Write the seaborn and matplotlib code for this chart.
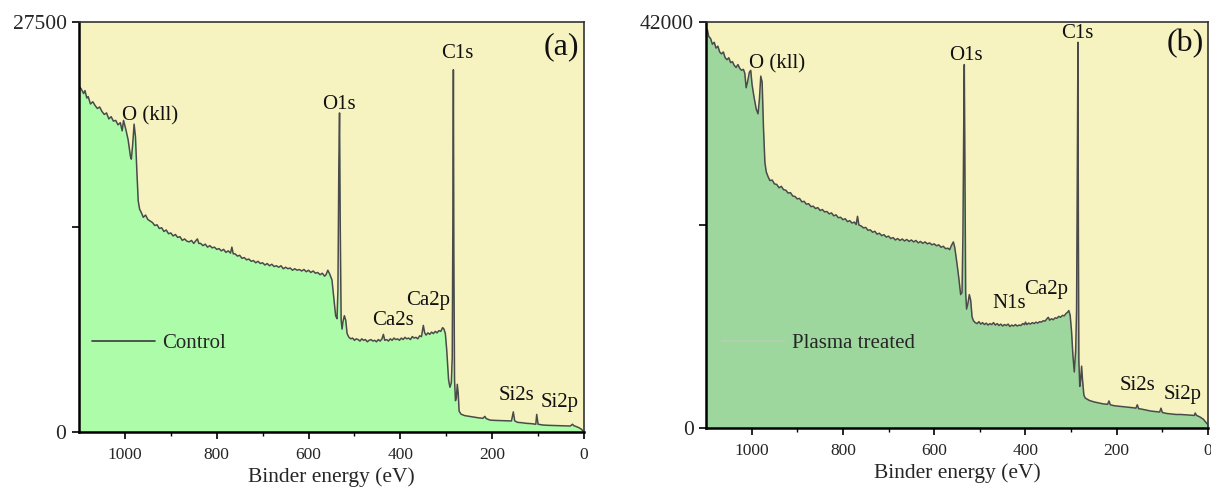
import numpy as np
import pandas as pd
import matplotlib
matplotlib.use("Agg")
import matplotlib.pyplot as plt
import seaborn as sns

# ---------------- data ----------------
control_energy = [1100, 1095, 1090, 1087, 1083, 1080, 1075, 1070, 1065, 1060, 1055, 1050, 1045, 1040,
                  1035, 1030, 1025, 1020, 1015, 1010, 1006, 1003, 998, 993, 988, 986, 983, 980, 977,
                  974, 971, 968, 964,
                  960, 955, 950, 945, 940, 935, 930, 925, 920, 915, 910, 905, 900, 895, 890, 885, 880,
                  875, 870, 865, 860, 855, 850, 845, 842, 839, 835, 830, 825, 820, 815, 810, 805, 800,
                  795, 790, 785, 780, 775, 770, 767, 764, 760, 755, 750, 745, 740, 735, 730, 725, 720,
                  715, 710, 705, 700, 695, 690, 685, 680, 675, 670, 665, 660, 655, 650, 645, 640, 635,
                  630, 625, 620, 615, 610, 605, 600, 595, 590, 585, 580, 575, 570, 565, 562, 558, 554,
                  549, 545, 541, 538, 536, 534, 532.5, 531, 529, 527, 525, 522, 519, 516,
                  512, 508, 504, 500, 496, 492, 488, 484, 480, 476, 472, 468, 464, 460, 456, 452, 448,
                  444, 440, 437, 434, 430, 426, 422, 418, 414, 410, 406, 402, 398, 394, 390, 386, 382,
                  378, 374, 370, 366, 362, 358, 354, 350, 347, 344, 340, 336, 332, 328, 324, 320, 316,
                  312, 308, 305, 302, 299, 295,
                  292, 289, 287, 285.5, 284.5, 283.5, 282, 280, 278, 276, 274, 272, 268, 260, 250, 240,
                  230, 220, 216, 213, 205, 195, 185, 175, 165, 158, 154, 151, 145, 135, 125, 115, 105,
                  103, 100, 90, 80, 70, 60, 50, 40, 30, 25, 22, 18, 12, 6, 0]
control_counts = [23200, 23000, 22700, 22900, 22400, 22500, 22000, 22150, 21900, 21700, 21800, 21500,
                  21300, 21400, 21000, 21150, 20850, 20900, 20600, 20750, 20200, 20900, 20300, 19600,
                  18500, 18300, 19300, 20650, 19800, 17500, 15500, 14950, 14700,
                  14400, 14550, 14250, 14150, 14050, 13850, 13900, 13650, 13700, 13450, 13550, 13300,
                  13350, 13150, 13250, 13050, 13100, 12850, 12950, 12800, 12750, 12850, 12650, 12850,
                  12950, 12650, 12650, 12500, 12600, 12400, 12500, 12350, 12400, 12250, 12300, 12150,
                  12250, 12050, 12150, 12000, 12400, 11950, 11950, 11800, 11850, 11650, 11700, 11550,
                  11600, 11450, 11500, 11350, 11450, 11300, 11350, 11200, 11300, 11150, 11250, 11100,
                  11150, 11050, 11150, 10950, 11050, 10950, 11000, 10850, 10950, 10850, 10900, 10800,
                  10900, 10750, 10850, 10700, 10800, 10650, 10700, 10550, 10650, 10450, 10550, 10850,
                  10600, 10200, 9000, 7800, 7600, 9500, 18000, 21400, 14000, 7500, 6900, 7400, 7800,
                  7500, 6600,
                  6350, 6250, 6300, 6150, 6250, 6200, 6100, 6250, 6150, 6200, 6050, 6150, 6200, 6100,
                  6150, 6050, 6200, 6100, 6250, 6550, 6150, 6200, 6100, 6250, 6150, 6300, 6200, 6250,
                  6150, 6300, 6200, 6350, 6250, 6300, 6200, 6400, 6300, 6350, 6250, 6450, 6400, 7150,
                  6650, 6500, 6650, 6550, 6700, 6600, 6750, 6650, 6800, 6750, 7000, 6900, 6600, 5500,
                  3500,
                  3000, 3300, 5000, 15000, 24300, 12000, 3500, 2100, 2300,
                  3200, 2600, 1400, 1200, 1100, 1050, 1000, 950, 920, 1050, 900, 800, 780, 770, 760,
                  750, 740, 1350, 750, 650, 620, 580, 560, 520, 1180, 520, 470, 450, 440, 430, 420,
                  410, 400, 520, 420, 380, 300, 200, 0]

plasma_energy = [1100, 1097, 1094, 1090, 1086, 1082, 1078, 1074, 1070, 1066, 1062, 1058, 1054, 1050,
                 1046, 1042, 1038, 1034, 1030, 1026, 1022, 1018, 1015, 1012, 1009, 1005, 1002, 999,
                 995, 990, 986, 983, 980, 977, 974, 971, 968,
                 964, 960, 955, 950, 945, 940, 935, 930, 925, 920, 915, 910, 905, 900, 895, 890, 885,
                 880, 875, 870, 865, 860, 855, 850, 845, 840, 835, 830, 825, 820, 815, 810, 805, 800,
                 795, 790, 785, 780, 775, 771, 768, 765, 760, 755, 750, 745, 740, 735, 730, 725, 720,
                 715, 710, 705, 700, 695, 690, 685, 680, 675, 670, 665, 660, 655, 650, 645, 640, 635,
                 630, 625, 620, 615, 610, 605, 600, 595, 590, 585, 580, 575, 570, 566, 562, 558,
                 555, 550, 546, 542, 539, 537, 535, 534, 533, 531, 529, 526, 523, 520, 517, 514,
                 510, 506, 502, 498, 494, 490, 486, 482, 478, 474, 470, 466, 462, 458, 454, 450, 446,
                 442, 438, 434, 430, 426, 422, 418, 414, 410, 406, 402, 400, 397, 393, 389, 385, 381,
                 377, 373, 369, 365, 361, 357, 353, 350, 347, 343, 339, 335, 331, 327, 323, 319, 315,
                 311, 308, 305, 302, 299,
                 296, 293, 290, 288, 286.5, 285, 284, 283, 281, 279, 277, 275, 272, 269, 260, 250, 240,
                 230, 220, 217, 214, 205, 195, 185, 175, 165, 158, 155, 152, 145, 135, 125, 115, 106,
                 103, 100, 90, 80, 70, 60, 50, 40, 30, 28, 25, 18, 10, 5, 0]
plasma_counts = [40970, 41200, 40500, 40300, 39700, 39900, 39300, 39500, 38900, 38700, 38900, 38300,
                 38100, 38300, 37800, 37900, 37500, 37300, 37600, 37200, 37000, 37100, 36700, 35200,
                 35800, 36800, 37000, 35500, 34300, 33000, 32500, 34000, 36400, 35800, 31000, 27500,
                 26500,
                 26000, 25600, 25650, 25250, 25200, 24850, 25000, 24650, 24600, 24300, 24350, 24000,
                 23950, 23700, 23750, 23400, 23450, 23150, 23200, 22900, 22950, 22700, 22800, 22500,
                 22600, 22350, 22400, 22150, 22250, 21950, 22050, 21750, 21800, 21550, 21650, 21350,
                 21450, 21200, 21300, 21050, 21900, 21000, 20900, 20700, 20750, 20450, 20500, 20250,
                 20350, 20050, 20150, 19900, 20000, 19750, 19850, 19600, 19700, 19450, 19600, 19400,
                 19550, 19350, 19500, 19300, 19450, 19250, 19400, 19150, 19300, 19100, 19250, 19050,
                 19150, 18950, 19050, 18850, 18950, 18700, 18800, 18550, 18600, 18450, 18900, 19250,
                 18700, 17000, 15500, 13800, 14000, 20000, 33000, 37600, 30000, 14000, 12300, 12900,
                 13800, 13200, 11500, 11100,
                 10900, 10800, 11000, 10750, 10900, 10700, 10850, 10650, 10800, 10700, 10900, 10650,
                 10800, 10600, 10750, 10550, 10700, 10600, 10750, 10500, 10650, 10550, 10700, 10550,
                 10650, 10600, 10800, 10700, 10950, 10700, 10850, 10750, 10900, 10800, 10950, 10850,
                 11000, 10950, 11100, 11050, 11300, 11450, 11150, 11300, 11200, 11400, 11350, 11550,
                 11450, 11650, 11600, 11850, 11950, 12150, 11650, 10000,
                 7500, 5800,
                 8000, 12200, 25000, 39900, 20000, 7000, 4300, 5000, 6400, 5000, 3400, 3100, 2850,
                 2700, 2600, 2500, 2450, 2800, 2400, 2300, 2250, 2200, 2150, 2100, 2050, 2400, 2000,
                 1950, 1850, 1750, 1700, 1650, 2050, 1600, 1500, 1450, 1400, 1400, 1370, 1330, 1300,
                 1550, 1300, 1150, 900, 600, 350]

# peak labels: (text, energy, counts)
control_peaks = ["O (kll)", "O1s", "C1s", "Ca2p", "Ca2s", "Si2s", "Si2p"]
control_peak_x = [945, 533, 277, 340, 417, 148, 53]
control_peak_y = [21230, 21965, 25410, 8800, 7500, 2420, 1970]
plasma_peaks = ["O (kll)", "O1s", "C1s", "N1s", "Ca2p", "Si2s", "Si2p"]
plasma_peak_x = [945, 530, 286, 435, 355, 155, 55]
plasma_peak_y = [37700, 38560, 40800, 12910, 14290, 4370, 3443]

series_names = ["Control", "Plasma treated"]
panel_tags = ["(a)", "(b)"]
y_max = [27500, 42000]
x_ticks = [1000, 800, 600, 400, 200, 0]

# ---------------- style ----------------
sns.set_theme(style="ticks")
plt.rcParams["font.family"] = ["Liberation Serif", "DejaVu Serif"]

bg_color = "#f7f3c1"
fill_colors = ["#adfcaa", "#9dd79e"]
line_color = "#4a4a4a"
legend_line_colors = ["#3a3a3a", "#b7cfae"]

fig = plt.figure(figsize=(12.11, 4.90), dpi=100)
ax_a = fig.add_axes([79 / 1211, 58 / 490, 505 / 1211, 410 / 490])
ax_b = fig.add_axes([706 / 1211, 62 / 490, 502 / 1211, 406 / 490])

datasets = [(control_energy, control_counts), (plasma_energy, plasma_counts)]
peak_sets = [(control_peaks, control_peak_x, control_peak_y),
             (plasma_peaks, plasma_peak_x, plasma_peak_y)]
legend_pos = [(0.026, 0.217), (0.032, 0.209)]

for i, ax in enumerate([ax_a, ax_b]):
    energy, counts = datasets[i]
    df = pd.DataFrame({"energy": energy, "counts": counts})
    ax.set_facecolor(bg_color)
    ax.fill_between(df["energy"], 0, df["counts"], color=fill_colors[i], linewidth=0, zorder=1)
    sns.lineplot(data=df, x="energy", y="counts", ax=ax, color=line_color, linewidth=1.1,
                 sort=False, estimator=None, label=series_names[i], zorder=2)

    ax.set_xlim(1100, 0)
    ax.set_ylim(0, y_max[i])
    ax.set_xticks(x_ticks)
    ax.set_xticks([900, 700, 500, 300, 100], minor=True)
    ax.set_xticklabels([str(t) for t in x_ticks], fontsize=12.5)
    ax.set_yticks([0, y_max[i] / 2, y_max[i]])
    ax.set_yticklabels(["0", "", str(y_max[i])], fontsize=15.5)
    ax.tick_params(axis="both", which="major", direction="out", length=5, width=1.2,
                   color="black", pad=4)
    ax.tick_params(axis="x", which="minor", direction="out", length=3, width=1.0, color="black")
    ax.tick_params(axis="x", pad=6)
    ax.set_xlabel("Binder energy (eV)", fontsize=15.5, labelpad=3)
    ax.set_ylabel("")

    for side in ["left", "bottom"]:
        ax.spines[side].set_color("black")
        ax.spines[side].set_linewidth(1.8)
    for side in ["top", "right"]:
        ax.spines[side].set_color("#333333")
        ax.spines[side].set_linewidth(1.2)

    names, px, py = peak_sets[i]
    for name, xx, yy in zip(names, px, py):
        ax.text(xx, yy, name, fontsize=15, ha="center", va="center", color="#111111", zorder=3)

    ax.text(50, y_max[i] * (0.939 if i == 0 else 0.947), panel_tags[i], fontsize=23,
            ha="center", va="center", color="#111111", zorder=3)

    leg = ax.legend(loc="center left", bbox_to_anchor=legend_pos[i], frameon=False,
                    borderpad=0, borderaxespad=0, handlelength=3.0, handletextpad=0.35,
                    fontsize=15)
    for ln in leg.get_lines():
        ln.set_color(legend_line_colors[i])
        ln.set_linewidth(1.2)

fig.savefig("out.png", dpi=100)
